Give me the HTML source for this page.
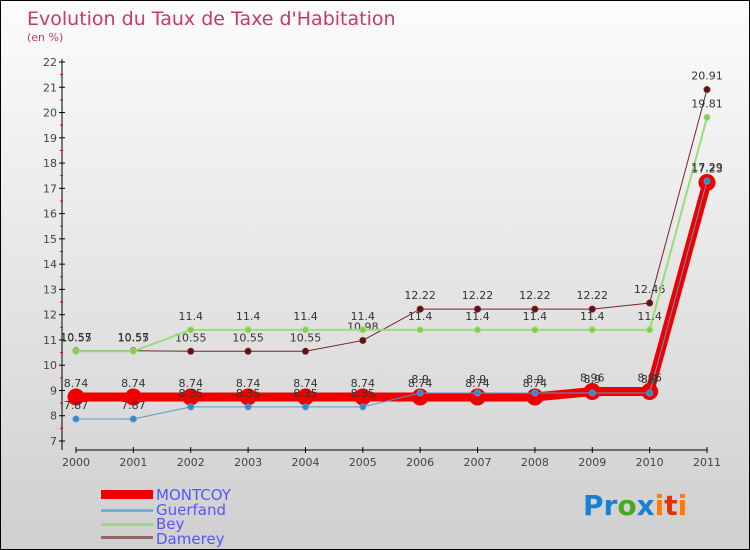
<!DOCTYPE html>
<html><head><meta charset="utf-8"><style>
body{margin:0}
#c{width:750px;height:550px;position:relative;box-sizing:border-box;border:1px solid #000;background:linear-gradient(#fcfcfc,#cfcfcf);font-family:"DejaVu Sans","Liberation Sans",sans-serif;overflow:hidden}
svg text{font-family:"DejaVu Sans","Liberation Sans",sans-serif}
</style></head><body>
<div id="c">
<svg id="s" width="750" height="550">
<text x="26" y="24" font-size="19" fill="#c8386a">Evolution du Taux de Taxe d'Habitation</text>
<text x="26" y="40" font-size="11" fill="#c8386a">(en %)</text>
<g id="axes"></g><g id="plot"></g>
<g>
<rect x="100" y="489" width="52" height="9" fill="#e00"/>
<text x="155" y="499" font-size="15" fill="#5555ff">MONTCOY</text>
<rect x="100" y="508" width="52" height="3" fill="#7aaed0"/>
<text x="155" y="514" font-size="15" fill="#5555ff">Guerfand</text>
<rect x="100" y="522" width="52" height="3" fill="#99dd77"/>
<text x="155" y="528" font-size="15" fill="#5555ff">Bey</text>
<rect x="100" y="535" width="52" height="3" fill="#996666"/>
<text x="155" y="543" font-size="15" fill="#5555ff">Damerey</text>
</g>
<text x="582" y="514" font-size="28" font-weight="bold"><tspan fill="#1a7fd0">Pr</tspan><tspan fill="#44aa22">o</tspan><tspan fill="#1a7fd0">x</tspan><tspan fill="#ff7a00">i</tspan><tspan fill="#dd3300">t</tspan><tspan fill="#ff7a00">i</tspan></text>
</svg></div>
<script>
const years=[2000,2001,2002,2003,2004,2005,2006,2007,2008,2009,2010,2011];
const montcoy=[8.74,8.74,8.74,8.74,8.74,8.74,8.74,8.74,8.74,8.96,8.96,17.23];
const guerfand=[7.87,7.87,8.35,8.35,8.35,8.35,8.9,8.9,8.9,8.9,8.9,17.29];
const bey=[10.55,10.55,11.4,11.4,11.4,11.4,11.4,11.4,11.4,11.4,11.4,19.81];
const damerey=[10.57,10.57,10.55,10.55,10.55,10.98,12.22,12.22,12.22,12.22,12.46,20.91];
const yTicks=[7,8,9,10,11,12,13,14,15,16,17,18,19,20,21,22];
const NS="http://www.w3.org/2000/svg";
const X=i=>75+i*(706-75)/(years.length-1);
const Y=v=>61+(22-v)*(440-61)/15;
function mk(t,a,p){const e=document.createElementNS(NS,t);for(const k in a)e.setAttribute(k,a[k]);p.appendChild(e);return e;}
const ax=document.getElementById('axes'),pl=document.getElementById('plot');
const ya=mk('line',{x1:61,y1:58,x2:61,y2:449,stroke:'#000'},ax);

const xa=mk('line',{x1:75,y1:449,x2:706,y2:449,stroke:'#000'},ax);

yTicks.forEach(v=>{
 mk('line',{x1:58,y1:Y(v),x2:64,y2:Y(v),stroke:'#000'},ax);
 if(v<22)mk('line',{x1:59,y1:Y(v+0.5),x2:62,y2:Y(v+0.5),stroke:'#e00'},ax);
 const t=mk('text',{x:56,y:Y(v)+4,'font-size':11,fill:'#444','text-anchor':'end'},ax);t.textContent=v;
 
});
years.forEach((y,i)=>{
 mk('line',{x1:X(i),y1:446,x2:X(i),y2:452,stroke:'#000'},ax);
 const t=mk('text',{x:X(i),y:465,'font-size':11,fill:'#444','text-anchor':'middle'},ax);t.textContent=y;
 
});
function series(vals,color,w,r,fill,name){
 const g=mk('g',{},pl);
 
 const p=mk('polyline',{points:vals.map((v,i)=>X(i)+','+Y(v)).join(' '),fill:'none',stroke:color,'stroke-width':w},g);
 vals.forEach((v,i)=>{
  const c=mk('circle',{cx:X(i),cy:Y(v),r:r,fill:fill,stroke:color,'stroke-width':r>5?3:1},g);
  
  const t=mk('text',{x:X(i),y:Y(v)-10,'font-size':11,fill:'#333','text-anchor':'middle'},g);t.textContent=v;
  
 });
}
series(damerey,'#772222',1,3,'#661111','damerey');
series(bey,'#99dd77',2,3,'#88cc44','bey');
series(montcoy,'#ee0000',9,7,'#ee0000','montcoy');
series(guerfand,'#5599cc',1,3,'#3388cc','guerfand');
</script>
</body></html>
